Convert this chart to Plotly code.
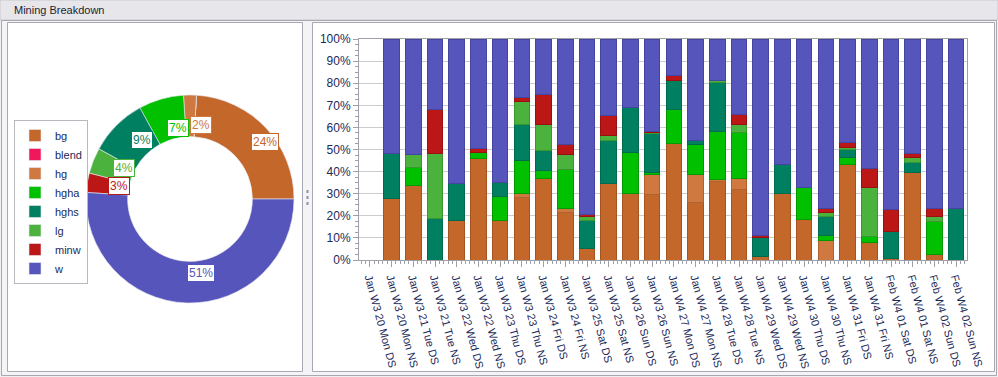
import math
import plotly.graph_objects as go

W, H = 998, 377

categories = [
    "Jan W3 20 Mon DS", "Jan W3 20 Mon NS", "Jan W3 21 Tue DS", "Jan W3 21 Tue NS",
    "Jan W3 22 Wed DS", "Jan W3 22 Wed NS", "Jan W3 23 Thu DS", "Jan W3 23 Thu NS",
    "Jan W3 24 Fri DS", "Jan W3 24 Fri NS", "Jan W3 25 Sat DS", "Jan W3 25 Sat NS",
    "Jan W3 26 Sun DS", "Jan W3 26 Sun NS", "Jan W4 27 Mon DS", "Jan W4 27 Mon NS",
    "Jan W4 28 Tue DS", "Jan W4 28 Tue NS", "Jan W4 29 Wed DS", "Jan W4 29 Wed NS",
    "Jan W4 30 Thu DS", "Jan W4 30 Thu NS", "Jan W4 31 Fri DS", "Jan W4 31 Fri NS",
    "Feb W4 01 Sat DS", "Feb W4 01 Sat NS", "Feb W4 02 Sun DS", "Feb W4 02 Sun NS",
]

bg = [0, 28, 33.5, 0, 17.8, 45.9, 17.8, 28.5, 37.1, 21.6, 5.0, 34.4, 29.9, 29.7,
      52.6, 26.1, 35.7, 32.0, 1.5, 29.9, 18.3, 0, 43.4, 8.1, 0.6, 39.8, 2.6, 0]
blend = [0] * 28
hg = [0, 0, 0, 0, 0, 0, 0, 1.4, 0, 1.8, 0, 0, 0, 8.9,
      0, 12.5, 0.6, 4.8, 0, 0, 0, 8.7, 0, 0, 0, 0, 0, 0]
hgha = [0, 0, 8.3, 0, 0, 2.7, 10.9, 15.2, 3.6, 17.6, 0, 0, 18.7, 0.9,
        15.3, 13.6, 21.8, 21.0, 0, 0, 14.3, 2.3, 3.2, 2.6, 0, 0, 14.9, 0]
hghs = [0, 20, 0, 18.7, 16.7, 0, 6.4, 16.3, 8.8, 0, 12.8, 19.6, 20.3, 17.6,
        13.5, 1.8, 22.1, 0, 8.9, 13.2, 0, 8.9, 3.6, 0, 12.1, 4.2, 0, 23.4]
lg = [0, 0, 6, 29.3, 0, 0, 0, 10.2, 12.0, 6.8, 2.0, 2.3, 0, 0.5,
      0, 0, 1.2, 3.7, 0, 0, 0, 1.8, 0.8, 21.9, 0, 2.6, 2.4, 0]
minw = [0, 0, 0, 19.9, 0, 1.8, 0, 2.0, 13.3, 4.4, 0.6, 9.0, 0, 0.5,
        2.0, 0, 0, 4.3, 0.6, 0, 0, 1.5, 2.1, 8.7, 10.1, 1.5, 3.6, 0]
w = [0, 52, 52.2, 32.1, 65.5, 49.6, 64.9, 26.4, 25.2, 47.8, 79.6, 34.7, 31.1, 41.9,
     16.6, 46.0, 18.6, 34.2, 89.0, 56.9, 67.4, 76.8, 46.9, 58.7, 77.2, 51.9, 76.5, 76.6]

series_names = ["bg", "blend", "hg", "hgha", "hghs", "lg", "minw", "w"]
series_values = [bg, blend, hg, hgha, hghs, lg, minw, w]
colors = ["#C4672B", "#F0185A", "#CF7840", "#00C000", "#008060", "#4BB23E", "#BB1717", "#5555BB"]
edge_colors = ["#A5531F", "#C01048", "#B0612F", "#009A00", "#006A4E", "#3A962E", "#9A1010", "#4545A0"]

pie_labels = series_names
pie_values = [24, 0, 2, 7, 9, 4, 3, 51]

FONT = "Liberation Sans"
TXT = "#1B2A5A"


def px_x(p):
    return p / W


def px_y(p):
    return 1 - p / H


fig = go.Figure()

x_idx = list(range(len(categories)))
for name, vals, c, ec in zip(series_names, series_values, colors, edge_colors):
    fig.add_trace(go.Bar(
        x=x_idx, y=vals, name=name, marker=dict(color=c, line=dict(color=ec, width=1)),
        width=0.72, showlegend=False, xaxis="x", yaxis="y",
    ))

total = sum(pie_values)
# first slice runs counterclockwise from 3 o'clock
pie_rotation = 90 - 360 * pie_values[0] / total

pie_l, pie_r, pie_t, pie_b = 86, 294, 95, 303
fig.add_trace(go.Pie(
    labels=pie_labels, values=pie_values, hole=0.6, sort=False,
    direction="counterclockwise", rotation=pie_rotation,
    marker=dict(colors=colors, line=dict(color="#E8E8F0", width=0.6)),
    textinfo="none", hoverinfo="label+percent",
    domain=dict(x=[px_x(pie_l), px_x(pie_r)], y=[px_y(pie_b), px_y(pie_t)]),
    showlegend=True,
))

annotations = []
cx, cy = (pie_l + pie_r) / 2, (pie_t + pie_b) / 2
r_mid = 83
cum = 0
for lab, v, c in zip(pie_labels, pie_values, colors):
    if v > 0:
        mid = (cum + v / 2) / total * 2 * math.pi  # counterclockwise from 3 o'clock
        ax = cx + r_mid * math.cos(mid)
        ay = cy - r_mid * math.sin(mid)
        annotations.append(dict(
            x=px_x(ax), y=px_y(ay), xref="paper", yref="paper",
            text=f"{round(v / total * 100)}%", showarrow=False,
            font=dict(family=FONT, size=12, color=c),
            bgcolor="white", bordercolor=c, borderwidth=1, borderpad=1,
        ))
    cum += v

annotations.append(dict(
    x=px_x(12), y=px_y(10), xref="paper", yref="paper", xanchor="left", yanchor="middle",
    text="Mining Breakdown", showarrow=False, font=dict(family=FONT, size=11, color="#1E2430"),
))

shapes = [
    dict(type="rect", xref="paper", yref="paper", x0=0, x1=1, y0=px_y(20), y1=1,
         fillcolor="#E6E6EB", line=dict(color="#C8C8CE", width=1), layer="below"),
    dict(type="rect", xref="paper", yref="paper", x0=px_x(1.5), x1=px_x(996.5),
         y0=px_y(375.5), y1=px_y(20.5), fillcolor="#F4F4F6",
         line=dict(color="#A8A8B0", width=1), layer="below"),
    dict(type="rect", xref="paper", yref="paper", x0=px_x(7.5), x1=px_x(302.5),
         y0=px_y(371.5), y1=px_y(22.5), fillcolor="white",
         line=dict(color="#A8A8B4", width=1), layer="below"),
    dict(type="rect", xref="paper", yref="paper", x0=px_x(312.5), x1=px_x(994.5),
         y0=px_y(371.5), y1=px_y(22.5), fillcolor="white",
         line=dict(color="#A8A8B4", width=1), layer="below"),
    dict(type="line", xref="paper", yref="paper", x0=px_x(307.5), x1=px_x(307.5),
         y0=px_y(190), y1=px_y(205), line=dict(color="#9090A0", width=2, dash="dot"),
         layer="below"),
]

plot_l, plot_r, plot_t, plot_b = 359, 967, 39, 260

fig.update_layout(
    width=W, height=H, margin=dict(l=0, r=0, t=0, b=0, pad=0, autoexpand=False),
    paper_bgcolor="#F0F0F2", plot_bgcolor="white",
    barmode="stack", bargap=0.28,
    font=dict(family=FONT, size=11, color=TXT),
    shapes=shapes, annotations=annotations,
    legend=dict(
        x=px_x(14), y=px_y(120), xanchor="left", yanchor="top",
        bgcolor="white", bordercolor="#B8B8C0", borderwidth=1,
        font=dict(family=FONT, size=11, color=TXT), traceorder="normal",
        itemwidth=30,
    ),
    xaxis=dict(
        domain=[px_x(plot_l), px_x(plot_r)], range=[-0.5, len(categories) - 0.5],
        tickmode="array", tickvals=x_idx, ticktext=categories, tickangle=75,
        ticks="outside", ticklen=6, tickcolor="#A0A0A8",
        minor=dict(dtick=0.2, tick0=0, ticks="outside", ticklen=3, tickcolor="#A0A0A8"),
        showline=True, linecolor="#A0A0A8", mirror=True, showgrid=False, zeroline=False,
        tickfont=dict(family=FONT, size=11, color=TXT), automargin=False,
    ),
    yaxis=dict(
        domain=[px_y(plot_b), px_y(plot_t)], range=[0, 100],
        tickmode="linear", tick0=0, dtick=10, ticksuffix="%",
        ticks="outside", ticklen=5, tickcolor="#A0A0A8",
        minor=dict(dtick=2.5, ticks="outside", ticklen=3, tickcolor="#A0A0A8"),
        showline=True, linecolor="#A0A0A8", mirror=True,
        showgrid=True, gridcolor="#CCCCCC", gridwidth=1, zeroline=False,
        tickfont=dict(family=FONT, size=12, color=TXT), automargin=False,
    ),
)

fig.write_html(
    "out.html",
    config={"responsive": False, "displayModeBar": False},
    post_script="document.body.style.margin='0';document.body.style.overflow='hidden';",
)
